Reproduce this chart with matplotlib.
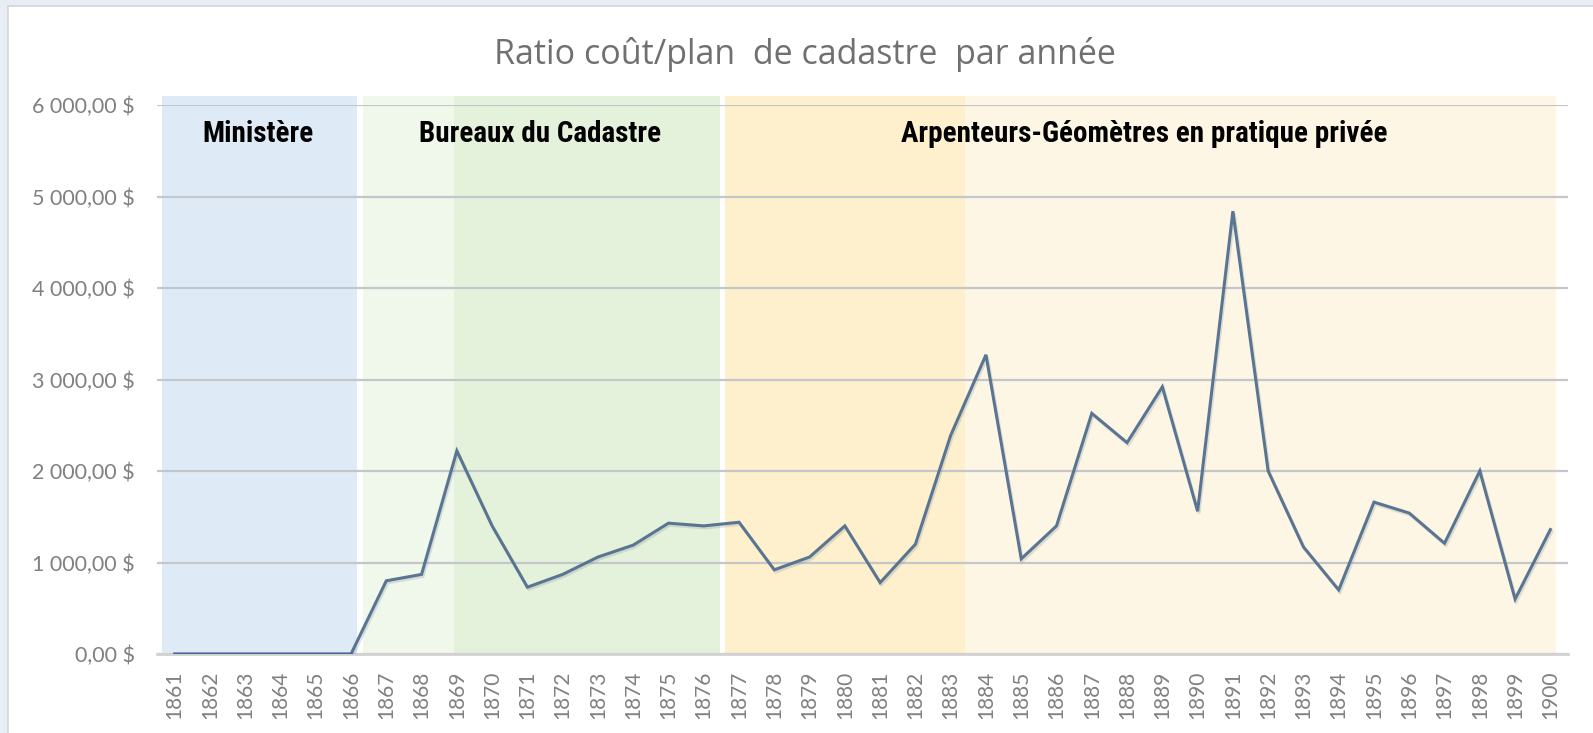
import matplotlib
matplotlib.use("Agg")
import matplotlib.pyplot as plt
from matplotlib.patches import Rectangle
from matplotlib.ticker import FuncFormatter, FixedLocator
from matplotlib.font_manager import FontProperties, fontManager
import matplotlib.patheffects as pe

# ---- data -------------------------------------------------------------
years = [str(y) for y in range(1861, 1901)]
ratio = [0, 0, 0, 0, 0, 0, 800, 870, 2220, 1400,
         730, 870, 1060, 1190, 1430, 1400, 1440, 920, 1060, 1400,
         780, 1200, 2390, 3270, 1040, 1400, 2630, 2310, 2920, 1560,
         4840, 2000, 1170, 700, 1660, 1540, 1210, 2000, 600, 1360]

period_labels = ["Ministère", "Bureaux du Cadastre",
                 "Arpenteurs-Géomètres en pratique privée"]
# background bands: (start, end) in category units, colour
bands = [(-0.36, 5.18, "#DEEBF7"),
         (5.33, 7.93, "#F0F7EB"),
         (7.93, 15.47, "#E5F2DB"),
         (15.61, 22.41, "#FEF0CD"),
         (22.41, 39.15, "#FEF6E4")]
y_ticks = [0, 1000, 2000, 3000, 4000, 5000, 6000]
title = "Ratio coût/plan  de cadastre  par année"


# ---- fonts ------------------------------------------------------------
def narrow_bold():
    """Pick a condensed bold sans face if one is installed."""
    prefs = ["Liberation Sans Narrow", "Arial Narrow", "Roboto Condensed",
             "Open Sans Condensed", "Noto Sans", "Open Sans", "Roboto",
             "DejaVu Sans", "Liberation Sans"]
    narrow_words = ("condensed", "narrow")
    found = []
    for f in fontManager.ttflist:
        st = str(f.stretch).lower()
        is_narrow = any(w in st for w in narrow_words) or any(
            w in f.name.lower() for w in narrow_words)
        if not is_narrow:
            continue
        try:
            wt = int(f.weight)
        except (TypeError, ValueError):
            wt = 700 if "bold" in str(f.weight).lower() else 400
        if wt < 600 or f.style != "normal":
            continue
        rank = next((i for i, p in enumerate(prefs) if f.name.startswith(p)), 99)
        found.append((rank, abs(wt - 700), f.fname))
    if found:
        found.sort()
        return FontProperties(fname=found[0][2], size=21)
    return FontProperties(family="Liberation Sans", weight="bold", size=18)


label_font = narrow_bold()

W, H = 1593, 733
fig = plt.figure(figsize=(W / 100, H / 100), dpi=100)
fig.patch.set_facecolor("#E7EDF3")
fig.add_artist(Rectangle((8 / W, -0.01), 1 - 8 / W + 0.01, 1 - 6 / H + 0.01,
                         transform=fig.transFigure, facecolor="white",
                         edgecolor="#CFD6DD", lw=1.2, zorder=-5))

ax = fig.add_axes([157 / W, 1 - 654 / H, (1568 - 157) / W, (654 - 105) / H])
ax.set_zorder(1)
ax.set_facecolor("none")
x = list(range(len(years)))

for x0, x1, c in bands:
    ax.axvspan(x0, x1, ymin=0, ymax=6100 / 6000, color=c, lw=0, zorder=0.3, clip_on=False)

ax.set_xlim(-0.5, 39.5)
ax.set_ylim(0, 6000)
ax.set_axisbelow(True)
ax.yaxis.set_major_locator(FixedLocator(y_ticks))
ax.yaxis.grid(True, color="#C3C7CB", lw=1.6)
ax.xaxis.grid(False)
for s in ["top", "right", "left"]:
    ax.spines[s].set_visible(False)
ax.spines["bottom"].set_color("#D2D2D2")
ax.spines["bottom"].set_linewidth(2)


def money(v, _pos=None):
    s = f"{v:,.2f}".replace(",", " ").replace(".", ",")
    return s + " $"


ax.yaxis.set_major_formatter(FuncFormatter(money))
ax.tick_params(axis="y", length=0, pad=16, labelsize=15.5, labelcolor="#808080")
ax.set_xticks(x)
ax.set_xticklabels(years, rotation=90)
ax.tick_params(axis="x", length=0, pad=12, labelsize=15, labelcolor="#808080")
for lab in ax.get_xticklabels() + ax.get_yticklabels():
    lab.set_fontfamily("Lato")

shadow = [pe.SimpleLineShadow(offset=(1, -1.5), shadow_color="#7D8FA3", alpha=0.25), pe.Normal()]
ax.plot(x, ratio, color="#5A7591", lw=2.2, zorder=3, path_effects=shadow, solid_joinstyle="miter")
ax.plot(x[:6], ratio[:6], color="#4366A3", lw=2.4, zorder=3.5)

# period names
label_x = [258, 540, 1144]
for name, px in zip(period_labels, label_x):
    fig.text(px / W, 1 - 142 / H, name, ha="center", va="baseline",
             fontproperties=label_font, color="black", zorder=5)

fig.text(805 / W, 1 - 64 / H, title, ha="center", va="baseline",
         fontsize=24.5, family="Open Sans", color="#707070")

fig.savefig("out.png", dpi=100, facecolor=fig.get_facecolor())
